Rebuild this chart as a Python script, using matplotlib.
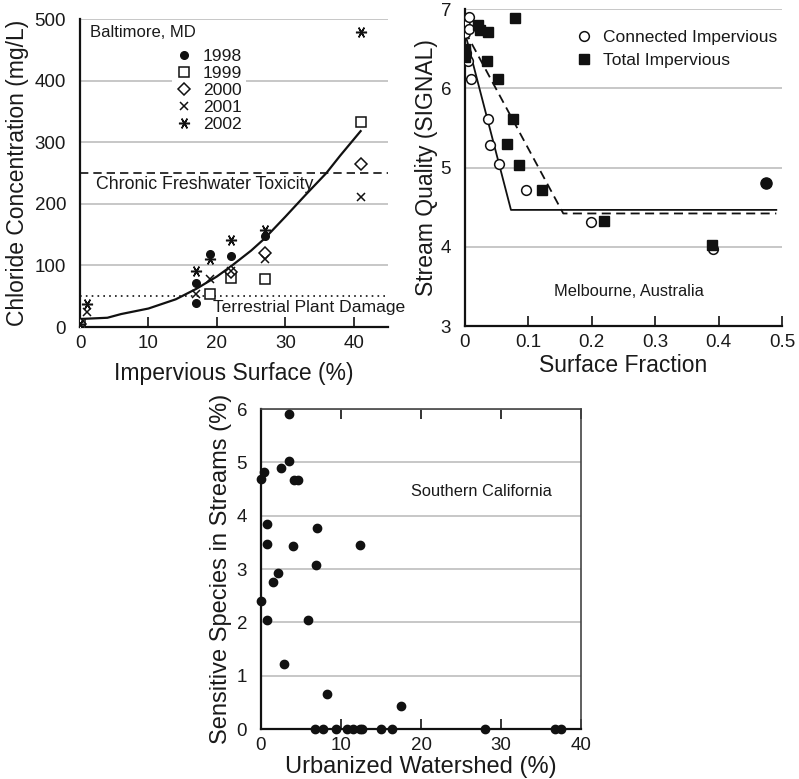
import matplotlib
matplotlib.use("Agg")
import matplotlib.pyplot as plt

plt.rcParams['font.family'] = ['Liberation Sans', 'DejaVu Sans']

# ---------------- Panel A: Baltimore chloride ----------------
a_x_1998 = [0, 17, 17, 19, 22, 27]
a_y_1998 = [5, 39, 71, 118, 116, 148]
a_x_1999 = [0, 19, 22, 27, 41]
a_y_1999 = [5, 53, 80, 78, 333]
a_x_2000 = [0, 22, 27, 41]
a_y_2000 = [5, 90, 120, 264]
a_x_2001 = [0, 1, 17, 19, 22, 27, 41]
a_y_2001 = [5, 24, 54, 78, 91, 110, 211]
a_x_2002 = [0, 1, 17, 19, 22, 27, 41]
a_y_2002 = [5, 37, 91, 111, 141, 158, 479]
a_fit_x = [0, 4, 6, 10, 14, 17, 20, 22, 25, 27, 30, 33, 36, 38, 41]
a_fit_y = [13, 15, 21, 30, 45, 62, 82, 98, 124, 144, 179, 215, 250, 278, 318]
a_chronic = 250
a_plant = 50

# ---------------- Panel B: Melbourne ----------------
b_conn_x = [0, 0, 0.007, 0.007, 0.001, 0.001, 0.005, 0.010, 0.037, 0.039, 0.054, 0.097, 0.198, 0.391, 0.474]
b_conn_y = [6.80, 6.70, 6.90, 6.75, 6.45, 6.40, 6.34, 6.12, 5.61, 5.28, 5.05, 4.71, 4.31, 3.97, 4.81]
b_tot_x = [0, 0, 0, 0.021, 0.024, 0.037, 0.079, 0.034, 0.052, 0.075, 0.066, 0.085, 0.122, 0.219, 0.390]
b_tot_y = [6.49, 6.44, 6.40, 6.80, 6.73, 6.71, 6.89, 6.34, 6.12, 5.61, 5.30, 5.03, 4.71, 4.32, 4.02]
b_overlap_x = [0.474]
b_overlap_y = [4.81]
b_conn_fit_x = [0, 0.0725, 0.491]
b_conn_fit_y = [6.70, 4.465, 4.465]
b_tot_fit_x = [0, 0.155, 0.491]
b_tot_fit_y = [6.72, 4.42, 4.42]

# ---------------- Panel C: Southern California ----------------
c_x = [3.46, 3.5, 2.54, 0.33, 0.0, 4.08, 4.63, 0.75, 0.79, 6.96, 4.04, 12.4, 6.88, 2.13,
       1.46, 0.0, 0.75, 5.92, 2.92, 8.25, 17.54,
       6.71, 7.71, 9.42, 10.75, 11.46, 12.42, 12.67, 14.96, 16.38, 28.0, 36.79, 37.54]
c_y = [5.91, 5.02, 4.89, 4.82, 4.69, 4.67, 4.66, 3.85, 3.47, 3.77, 3.44, 3.45, 3.08, 2.93,
       2.76, 2.40, 2.05, 2.05, 1.22, 0.66, 0.43,
       0, 0, 0, 0, 0, 0, 0, 0, 0, 0, 0, 0]

W, H = 799, 779
fig = plt.figure(figsize=(W / 100, H / 100), dpi=100)

TXT = '#1a1a1a'
GRID = '#bdbdbd'
TICK_FS = 13.5
LAB_FS = 16.5


def fr(l, r, b, t):
    return [l / W, 1 - b / H, (r - l) / W, (b - t) / H]


def style(ax):
    for s in ['top', 'right']:
        ax.spines[s].set_visible(False)
    for s in ['left', 'bottom']:
        ax.spines[s].set_linewidth(1.6)
        ax.spines[s].set_color('#111111')
    ax.tick_params(axis='x', direction='in', length=7, width=1.2, labelsize=TICK_FS,
                   colors='#111111', labelcolor=TXT, pad=6)
    ax.tick_params(axis='y', length=0, labelsize=TICK_FS, labelcolor=TXT, pad=10)
    ax.grid(axis='y', color=GRID, linewidth=1.2)
    ax.set_axisbelow(True)


# Panel A
axA = fig.add_axes(fr(80, 388, 327, 19))
style(axA)
axA.set_xlim(0, 45)
axA.set_ylim(0, 500)
axA.set_xticks([0, 10, 20, 30, 40])
axA.set_yticks([0, 100, 200, 300, 400, 500])
axA.plot(a_fit_x, a_fit_y, color='#111111', lw=1.6, zorder=3)
axA.axhline(a_chronic, color='#111111', lw=1.2, ls=(0, (5, 3)), zorder=2)
axA.axhline(a_plant, color='#111111', lw=1.2, ls=(0, (1, 2.5)), zorder=2)
k = dict(ls='none', color='#111111', zorder=4)
h1, = axA.plot(a_x_1998, a_y_1998, marker='o', ms=5.5, **k, label='1998')
h2, = axA.plot(a_x_1999, a_y_1999, marker='s', ms=7, mfc='white', mew=1.1, **k, label='1999')
h3, = axA.plot(a_x_2000, a_y_2000, marker='D', ms=6, mfc='white', mew=1.1, **k, label='2000')
h4, = axA.plot(a_x_2001, a_y_2001, marker='x', ms=6, mew=1.1, **k, label='2001')
h5, = axA.plot(a_x_2002, a_y_2002, marker=(6, 2, 90), ms=8, mew=1.1, **k, label='2002')
legA = axA.legend(handles=[h1, h2, h3, h4, h5], loc='upper left',
                  bbox_to_anchor=((172 - 80) / 308, (327 - 45) / 308),
                  frameon=True, fancybox=False, edgecolor='none', facecolor='white',
                  framealpha=1, fontsize=12.6, handlelength=1.0, handletextpad=0.55,
                  labelspacing=0.1, borderpad=0.2, borderaxespad=0)
for t in legA.get_texts():
    t.set_color(TXT)
axA.text(0.033, 0.955, 'Baltimore, MD', transform=axA.transAxes, fontsize=12,
         color=TXT, ha='left', va='center')
axA.text(2.4, 231, 'Chronic Freshwater Toxicity', fontsize=12.8, color=TXT,
         ha='left', va='center')
axA.text(19.5, 31, 'Terrestrial Plant Damage', fontsize=12.6, color=TXT,
         ha='left', va='center', clip_on=False)
axA.set_xlabel('Impervious Surface (%)', fontsize=LAB_FS, color=TXT, labelpad=7)
axA.set_ylabel('Chloride Concentration (mg/L)', fontsize=LAB_FS, color=TXT, labelpad=4)

# Panel B
axB = fig.add_axes(fr(465, 782, 326, 9))
style(axB)
axB.set_xlim(0, 0.5)
axB.set_ylim(3, 7)
axB.set_xticks([0, 0.1, 0.2, 0.3, 0.4, 0.5])
axB.set_xticklabels(['0', '0.1', '0.2', '0.3', '0.4', '0.5'])
axB.set_yticks([3, 4, 5, 6, 7])
axB.plot(b_conn_fit_x, b_conn_fit_y, color='#111111', lw=1.3, zorder=3)
axB.plot(b_tot_fit_x, b_tot_fit_y, color='#111111', lw=1.3, ls=(0, (5, 3)), zorder=3)
hb1, = axB.plot(b_conn_x, b_conn_y, ls='none', marker='o', ms=7, mfc='white',
                mec='#111111', mew=1.1, zorder=4, label='Connected Impervious')
hb2, = axB.plot(b_tot_x, b_tot_y, ls='none', marker='s', ms=6.5, color='#111111',
                zorder=5, label='Total Impervious')
axB.plot(b_overlap_x, b_overlap_y, ls='none', marker='o', ms=8, color='#111111', zorder=5)
legB = axB.legend(handles=[hb1, hb2], loc='upper left',
                  bbox_to_anchor=((572 - 465) / 317, (326 - 26) / 317),
                  frameon=False, fontsize=12.5, handlelength=1.0, handletextpad=0.6,
                  labelspacing=0.45, borderpad=0.2, borderaxespad=0)
for t in legB.get_texts():
    t.set_color(TXT)
axB.text(0.259, 3.44, 'Melbourne, Australia', fontsize=11.8, color=TXT,
         ha='center', va='center')
axB.set_xlabel('Surface Fraction', fontsize=LAB_FS, color=TXT, labelpad=2)
axB.set_ylabel('Stream Quality (SIGNAL)', fontsize=LAB_FS, color=TXT, labelpad=2)

# Panel C
axC = fig.add_axes(fr(261, 581, 729, 409))
style(axC)
for s in ['top', 'right']:
    axC.spines[s].set_visible(True)
    axC.spines[s].set_linewidth(1.2)
    axC.spines[s].set_color('#444444')
axC.tick_params(axis='x', top=True, direction='in')
axC.set_xlim(0, 40)
axC.set_ylim(0, 6)
axC.set_xticks([0, 10, 20, 30, 40])
axC.set_yticks([0, 1, 2, 3, 4, 5, 6])
axC.plot(c_x, c_y, ls='none', marker='o', ms=6, color='#111111', zorder=4, clip_on=False)
axC.text(27.5, 4.45, 'Southern California', fontsize=11.8, color=TXT,
         ha='center', va='center')
axC.set_xlabel('Urbanized Watershed (%)', fontsize=17, color=TXT, labelpad=1)
axC.set_ylabel('Sensitive Species in Streams (%)', fontsize=17, color=TXT, labelpad=3)

fig.savefig('out.png', dpi=100)
